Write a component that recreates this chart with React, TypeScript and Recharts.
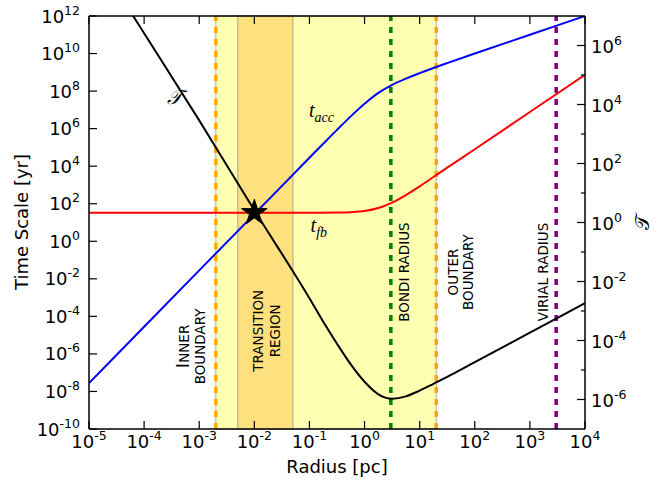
import React from "react";
import {
  ComposedChart,
  Line,
  XAxis,
  YAxis,
  ReferenceArea,
  ReferenceLine,
  ReferenceDot,
} from "recharts";

const FONT = "'DejaVu Sans', sans-serif";
const MATH = "'Liberation Serif', 'DejaVu Serif', serif";

// axis ticks
const radiusTicks = [1e-5, 1e-4, 1e-3, 1e-2, 1e-1, 1, 10, 100, 1e3, 1e4];
const timeTicks = [1e-10, 1e-8, 1e-6, 1e-4, 1e-2, 1, 1e2, 1e4, 1e6, 1e8, 1e10, 1e12];
const tauTicks = [1e-6, 1e-5, 1e-4, 1e-3, 1e-2, 1e-1, 1, 10, 100, 1e3, 1e4, 1e5, 1e6];

// t_fb [yr] vs radius [pc]
const feedbackTime = [
  { r: 1e-5, t: 33 },
  { r: 1e-2, t: 33 },
  { r: 0.1, t: 33.1 },
  { r: 0.316, t: 33.8 },
  { r: 0.562, t: 35.6 },
  { r: 1, t: 41 },
  { r: 1.78, t: 59 },
  { r: 3.16, t: 115 },
  { r: 5.62, t: 290 },
  { r: 10, t: 840 },
  { r: 17.8, t: 2650 },
  { r: 31.6, t: 8300 },
  { r: 100, t: 8.0e4 },
  { r: 1e3, t: 7.7e6 },
  { r: 1e4, t: 7.4e8 },
];

// t_acc [yr] vs radius [pc]
const accretionTime = [
  { r: 1e-5, t: 2.8e-8 },
  { r: 1e-4, t: 2.8e-5 },
  { r: 1e-3, t: 0.028 },
  { r: 1e-2, t: 28 },
  { r: 0.1, t: 2.8e4 },
  { r: 0.178, t: 1.57e5 },
  { r: 0.316, t: 8.6e5 },
  { r: 0.562, t: 4.5e6 },
  { r: 1, t: 2.1e7 },
  { r: 1.78, t: 8.0e7 },
  { r: 3.16, t: 2.15e8 },
  { r: 5.62, t: 4.6e8 },
  { r: 10, t: 9.0e8 },
  { r: 17.8, t: 1.7e9 },
  { r: 31.6, t: 3.1e9 },
  { r: 100, t: 1.0e10 },
  { r: 1e3, t: 1.0e11 },
  { r: 1e4, t: 1.0e12 },
];

// T (right axis) vs radius [pc]
const tauCurve = [
  { r: 1e-5, T: 2.3e9 },
  { r: 1e-4, T: 2.6e6 },
  { r: 1e-3, T: 2.9e3 },
  { r: 1e-2, T: 2.6 },
  { r: 0.1, T: 2.7e-3 },
  { r: 0.178, T: 4.3e-4 },
  { r: 0.316, T: 7.8e-5 },
  { r: 0.562, T: 1.55e-5 },
  { r: 1, T: 4.0e-6 },
  { r: 1.78, T: 1.5e-6 },
  { r: 3.16, T: 1.07e-6 },
  { r: 5.62, T: 1.28e-6 },
  { r: 10, T: 2.0e-6 },
  { r: 17.8, T: 3.4e-6 },
  { r: 31.6, T: 5.8e-6 },
  { r: 56.2, T: 1.03e-5 },
  { r: 100, T: 1.84e-5 },
  { r: 1e3, T: 1.84e-4 },
  { r: 1e4, T: 1.84e-3 },
];

const starPoint = [{ r: 0.01, t: 33 }];

const innerBoundary = 2e-3;
const outerBoundary = 20;
const transitionRegion = [5e-3, 5e-2];
const bondiRadius = 3;
const virialRadius = 3e3;

const exponentOf = (v: number) => Math.round(Math.log10(v));

const PowerLabel = ({ x, y, value, anchor }: any) => (
  <text x={x} y={y} textAnchor={anchor} fontSize={18} fontFamily={FONT} fill="#000">
    10
    <tspan dy={-8} fontSize={12.5}>
      {exponentOf(value)}
    </tspan>
  </text>
);

const BottomTick = (props: any) => {
  const { x, y, payload } = props;
  return (
    <g>
      <line x1={x} x2={x} y1={y} y2={y - 8} stroke="#000" strokeWidth={1.2} />
      <PowerLabel x={x} y={y + 19} value={payload.value} anchor="middle" />
    </g>
  );
};

const TopTick = (props: any) => {
  const { x, y } = props;
  return <line x1={x} x2={x} y1={y} y2={y + 8} stroke="#000" strokeWidth={1.2} />;
};

const LeftTick = (props: any) => {
  const { x, y, payload } = props;
  return (
    <g>
      <line x1={x} x2={x + 8} y1={y} y2={y} stroke="#000" strokeWidth={1.2} />
      <PowerLabel x={x - 9} y={y + 6.5} value={payload.value} anchor="end" />
    </g>
  );
};

const RightTick = (props: any) => {
  const { x, y, payload } = props;
  const exp = exponentOf(payload.value);
  const major = exp % 2 === 0;
  return (
    <g>
      <line x1={x} x2={x - (major ? 8 : 4)} y1={y} y2={y} stroke="#000" strokeWidth={1.2} />
      {major && <PowerLabel x={x + 6} y={y + 7} value={payload.value} anchor="start" />}
    </g>
  );
};

const StarMark = ({ cx, cy }: any) => {
  const outer = 13.5;
  const inner = outer * 0.382;
  const pts: string[] = [];
  for (let i = 0; i < 10; i++) {
    const rad = i % 2 === 0 ? outer : inner;
    const a = -Math.PI / 2 + (i * Math.PI) / 5;
    pts.push(`${cx + rad * Math.cos(a)},${cy + rad * Math.sin(a)}`);
  }
  return <polygon points={pts.join(" ")} fill="#000" stroke="#000" strokeWidth={1} />;
};

const RotatedLabel = ({ cx, cy, lines, shifts }: any) => (
  <g>
    {lines.map((line: React.ReactNode, i: number) => (
      <text
        key={i}
        x={cx + shifts[i]}
        y={cy}
        transform={`rotate(-90 ${cx + shifts[i]} ${cy})`}
        textAnchor="middle"
        fontSize={13.5}
        fontFamily={FONT}
        fill="#000"
      >
        {line}
      </text>
    ))}
  </g>
);

const MathLabel = ({ cx, cy, base, sub, anchor }: any) => (
  <text x={cx} y={cy} textAnchor={anchor} fontFamily={MATH} fontStyle="italic" fontSize={20} fill="#000">
    {base}
    {sub && (
      <tspan dy={5} fontSize={14}>
        {sub}
      </tspan>
    )}
  </text>
);

const App = () => {
  return (
    <div style={{ position: "absolute", left: 0, top: 0, width: 671, height: 483, background: "#fff" }}>
      <ComposedChart width={671} height={483} margin={{ top: 6, right: 26, bottom: 24, left: 29 }}>
        <XAxis
          dataKey="r"
          type="number"
          scale="log"
          domain={[1e-5, 1e4]}
          allowDataOverflow
          ticks={radiusTicks}
          interval={0}
          height={30}
          tickSize={0}
          tickMargin={0}
          tickLine={false}
          tick={<BottomTick />}
          axisLine={{ stroke: "#000", strokeWidth: 1.5 }}
        />
        <XAxis
          xAxisId="top"
          orientation="top"
          dataKey="r"
          type="number"
          scale="log"
          domain={[1e-5, 1e4]}
          allowDataOverflow
          ticks={radiusTicks}
          interval={0}
          height={10}
          tickSize={0}
          tickMargin={0}
          tickLine={false}
          tick={<TopTick />}
          axisLine={{ stroke: "#000", strokeWidth: 1.5 }}
        />
        <YAxis
          yAxisId="t"
          type="number"
          scale="log"
          domain={[1e-10, 1e12]}
          allowDataOverflow
          ticks={timeTicks}
          interval={0}
          width={60}
          tickSize={0}
          tickMargin={0}
          tickLine={false}
          tick={<LeftTick />}
          axisLine={{ stroke: "#000", strokeWidth: 1.5 }}
        />
        <YAxis
          yAxisId="tau"
          orientation="right"
          type="number"
          scale="log"
          domain={[1e-7, 1e7]}
          allowDataOverflow
          ticks={tauTicks}
          interval={0}
          width={60}
          tickSize={0}
          tickMargin={0}
          tickLine={false}
          tick={<RightTick />}
          axisLine={{ stroke: "#000", strokeWidth: 1.5 }}
        />

        <ReferenceArea
          yAxisId="t"
          x1={innerBoundary}
          x2={outerBoundary}
          fill="#ffffb2"
          fillOpacity={1}
          stroke="#c8c8b4"
          strokeWidth={1.5}
        />
        <ReferenceArea
          yAxisId="t"
          x1={transitionRegion[0]}
          x2={transitionRegion[1]}
          fill="#ffe07f"
          fillOpacity={1}
          stroke="#c8bd8e"
          strokeWidth={1.5}
        />

        <ReferenceLine yAxisId="t" x={innerBoundary} stroke="#ffa500" strokeWidth={3.5} strokeDasharray="6 6" />
        <ReferenceLine yAxisId="t" x={outerBoundary} stroke="#ffa500" strokeWidth={3.5} strokeDasharray="6 6" />
        <ReferenceLine yAxisId="t" x={bondiRadius} stroke="#008000" strokeWidth={3.5} strokeDasharray="6 6" />
        <ReferenceLine yAxisId="t" x={virialRadius} stroke="#800080" strokeWidth={3.5} strokeDasharray="6 6" />

        <Line
          data={feedbackTime}
          yAxisId="t"
          dataKey="t"
          type="monotone"
          stroke="#ff0000"
          strokeWidth={2}
          dot={false}
          isAnimationActive={false}
        />
        <Line
          data={accretionTime}
          yAxisId="t"
          dataKey="t"
          type="monotone"
          stroke="#0000ff"
          strokeWidth={2}
          dot={false}
          isAnimationActive={false}
        />
        <Line
          data={tauCurve}
          yAxisId="tau"
          dataKey="T"
          type="monotone"
          stroke="#000000"
          strokeWidth={2}
          dot={false}
          isAnimationActive={false}
        />

        <ReferenceDot yAxisId="t" x={starPoint[0].r} y={starPoint[0].t} shape={(p: any) => <StarMark {...p} />} />

        <ReferenceDot
          yAxisId="t"
          x={innerBoundary}
          y={2.5e-6}
          shape={(p: any) => (
            <RotatedLabel
              {...p}
              lines={[
                <>
                  <tspan fontSize={18}>I</tspan>NNER
                </>,
                "BOUNDARY",
              ]}
              shifts={[-26.7, -11]}
            />
          )}
        />
        <ReferenceDot
          yAxisId="t"
          x={0.0158}
          y={1.7e-5}
          shape={(p: any) => <RotatedLabel {...p} lines={["TRANSITION", "REGION"]} shifts={[-2, 14.6]} />}
        />
        <ReferenceDot
          yAxisId="t"
          x={bondiRadius}
          y={0.023}
          shape={(p: any) => <RotatedLabel {...p} lines={["BONDI RADIUS"]} shifts={[18.6]} />}
        />
        <ReferenceDot
          yAxisId="t"
          x={outerBoundary}
          y={0.023}
          shape={(p: any) => <RotatedLabel {...p} lines={["OUTER", "BOUNDARY"]} shifts={[22, 37]} />}
        />
        <ReferenceDot
          yAxisId="t"
          x={virialRadius}
          y={0.023}
          shape={(p: any) => <RotatedLabel {...p} lines={["VIRIAL RADIUS"]} shifts={[-8.4]} />}
        />

        <ReferenceDot yAxisId="t" x={0.098} y={4e6} shape={(p: any) => <MathLabel {...p} base="t" sub="acc" anchor="start" />} />
        <ReferenceDot yAxisId="t" x={0.105} y={3} shape={(p: any) => <MathLabel {...p} base="t" sub="fb" anchor="start" />} />
        <ReferenceDot yAxisId="t" x={3.5e-4} y={2e7} shape={(p: any) => <MathLabel {...p} base="𝒯" anchor="middle" />} />

        <text x={337} y={473} textAnchor="middle" fontSize={18} fontFamily={FONT} fill="#000">
          Radius [pc]
        </text>
        <text x={28} y={222} transform="rotate(-90 28 222)" textAnchor="middle" fontSize={18} fontFamily={FONT} fill="#000">
          Time Scale [yr]
        </text>
        <text x={649} y={222} transform="rotate(-90 649 222)" textAnchor="middle" fontSize={20} fontFamily={MATH} fill="#000">
          𝒯
        </text>
      </ComposedChart>
    </div>
  );
};

export default App;
